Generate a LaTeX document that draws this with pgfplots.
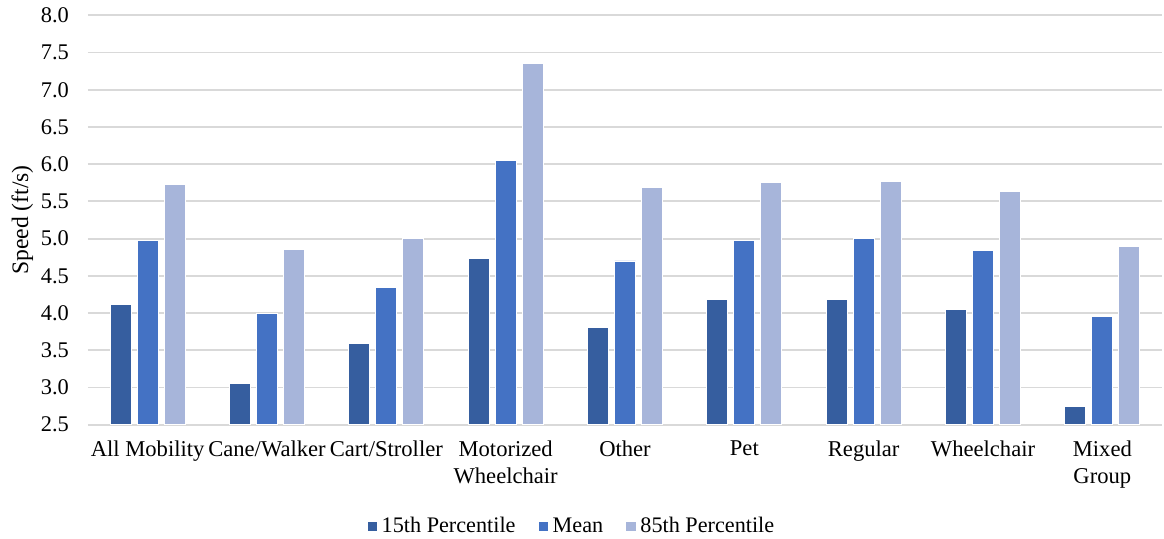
\documentclass[border=0pt]{standalone}
\usepackage{pgfplots}
\pgfplotsset{compat=1.18}
\usepackage{fontspec}
\setmainfont{Liberation Serif}

\definecolor{pdark}{HTML}{365E9F}
\definecolor{pmid}{HTML}{4472C4}
\definecolor{plight}{HTML}{A7B5DA}
\definecolor{gridgray}{HTML}{D9D9D9}

\begin{document}
\begin{tikzpicture}
\begin{axis}[
    name=ax,
    scale only axis,
    width=537pt, height=204.7pt,
    ybar=3pt,
    bar width=10.5pt,
    xmin=-0.5, xmax=8.5,
    ymin=2.5, ymax=8.0,
    ytick={2.5,3.0,...,8.0},
    xtick={0,...,8},
    xticklabels={All Mobility,Cane/Walker,Cart/Stroller,{Motorized\\Wheelchair},Other,Pet,Regular,Wheelchair,{Mixed\\Group}},
    xticklabel style={align=center, font=\fontsize{11.3}{13.5}\selectfont, yshift=-4.5pt},
    yticklabel style={font=\fontsize{11.2}{13}\selectfont, xshift=-6pt},
    /pgf/number format/assume math mode=true,
    /pgf/number format/fixed,
    /pgf/number format/fixed zerofill,
    /pgf/number format/precision=1,
    ylabel={Speed (ft/s)},
    ylabel style={font=\fontsize{11.8}{13}\selectfont, yshift=-3pt},
    major tick length=0pt,
    ymajorgrids=true,
    grid style={gridgray, line width=0.9pt},
    axis line style={draw=none},
    axis x line*=bottom,
    axis y line*=left,
    legend columns=3,
    legend style={draw=none, at={(0.451,-0.249)}, anchor=center,
        font=\fontsize{11.1}{13}\selectfont,
        /tikz/every even column/.append style={column sep=9pt}},
    legend image code/.code={\fill[#1] (0pt,-2.6pt) rectangle (5.2pt,2.6pt);},
    every axis plot/.append style={draw=white, line width=0.4pt},
]
\addplot[fill=pdark] coordinates {(0,4.12) (1,3.05) (2,3.59) (3,4.73) (4,3.81) (5,4.18) (6,4.18) (7,4.05) (8,2.74)};
\addplot[fill=pmid] coordinates {(0,4.97) (1,3.99) (2,4.34) (3,6.05) (4,4.70) (5,4.98) (6,5.00) (7,4.84) (8,3.96)};
\addplot[fill=plight] coordinates {(0,5.73) (1,4.85) (2,5.00) (3,7.35) (4,5.69) (5,5.76) (6,5.77) (7,5.63) (8,4.90)};
\legend{15th Percentile, Mean, 85th Percentile}
\end{axis}
\pgfresetboundingbox
\path[use as bounding box] ([shift={(-44pt,-57.15pt)}]ax.south west) rectangle ([shift={(1pt,7.65pt)}]ax.north east);
\end{tikzpicture}
\end{document}
